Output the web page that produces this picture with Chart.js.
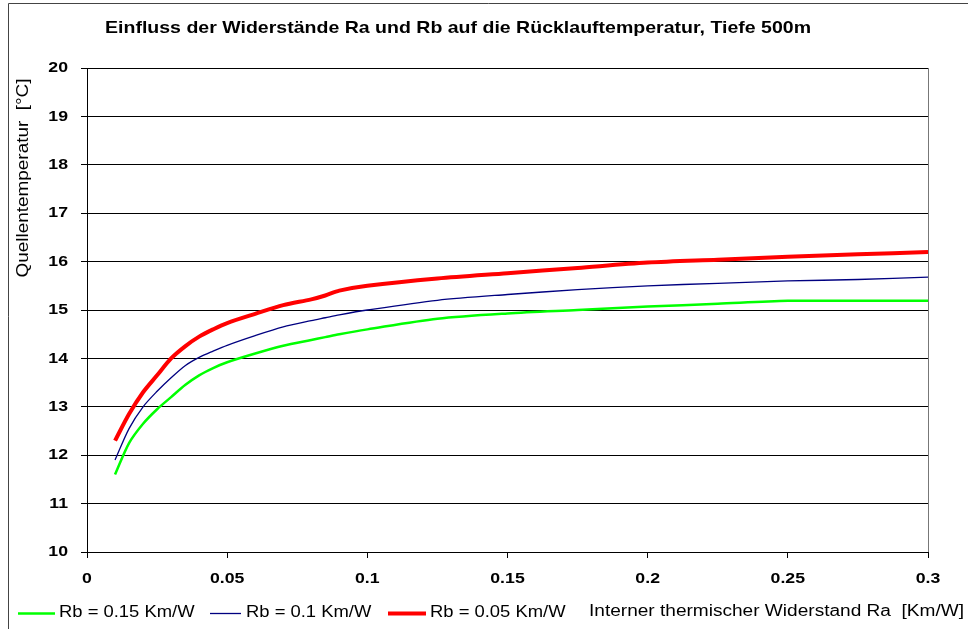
<!DOCTYPE html>
<html>
<head>
<meta charset="utf-8">
<script src="https://cdn.jsdelivr.net/npm/chart.js@4.4.7/dist/chart.umd.min.js"></script>
<style>
  html, body { margin: 0; padding: 0; background: #fff; }
  canvas { display: block; }
</style>
</head>
<body>
<canvas id="chart" width="968" height="629"></canvas>
<script>
const title = "Einfluss der Widerstände Ra und Rb auf die Rücklauftemperatur, Tiefe 500m";
const yTitle = "Quellentemperatur  [°C]";
const xTitle = "Interner thermischer Widerstand Ra  [Km/W]";

const ra = [0.01, 0.015, 0.02, 0.025, 0.03, 0.035, 0.04, 0.045, 0.05, 0.06, 0.07, 0.08,
  0.085, 0.09, 0.1, 0.125, 0.15, 0.175, 0.2, 0.225, 0.25, 0.275, 0.3];

const rb015 = [11.6, 12.25, 12.65, 12.95, 13.2, 13.45, 13.65, 13.8, 13.92, 14.1, 14.26, 14.38,
  14.44, 14.5, 14.6, 14.82, 14.93, 15.0, 15.07, 15.13, 15.19, 15.19, 15.19];
const rb010 = [11.9, 12.55, 13.0, 13.32, 13.6, 13.85, 14.02, 14.15, 14.27, 14.47, 14.65, 14.78,
  14.84, 14.9, 15.0, 15.2, 15.32, 15.42, 15.5, 15.55, 15.6, 15.63, 15.68];
const rb005 = [12.3, 12.85, 13.3, 13.65, 14.0, 14.25, 14.45, 14.6, 14.73, 14.92, 15.1, 15.22,
  15.3, 15.4, 15.5, 15.65, 15.76, 15.87, 15.98, 16.04, 16.1, 16.15, 16.2];

const labels = ["Rb = 0.15 Km/W", "Rb = 0.1 Km/W", "Rb = 0.05 Km/W"];
const toPoints = (ys) => ra.map((x, i) => ({ x, y: ys[i] }));

const font = "'Liberation Sans', Arial, sans-serif";
const stretch = 1.15; // the source picture is a bit wider than tall

// draw text squeezed/stretched horizontally
const drawText = (ctx, text, x, y, align, sx) => {
  const w = ctx.measureText(text).width * sx;
  let left = x;
  if (align === "center") left = x - w / 2;
  if (align === "right") left = x - w;
  ctx.save();
  ctx.translate(left, y);
  ctx.scale(sx, 1);
  ctx.textAlign = "left";
  ctx.fillText(text, 0, 0);
  ctx.restore();
};

const decorations = {
  id: "decorations",
  afterDraw(chart) {
    const { ctx, chartArea } = chart;
    ctx.save();
    // outer frame
    ctx.strokeStyle = "#444";
    ctx.lineWidth = 1;
    ctx.beginPath();
    ctx.moveTo(8.5, 640);
    ctx.lineTo(8.5, 3.5);
    ctx.lineTo(980, 3.5);
    ctx.stroke();
    // right edge of plot area
    ctx.strokeStyle = "#777";
    ctx.beginPath();
    ctx.moveTo(Math.round(chartArea.right) + 0.5, chartArea.top);
    ctx.lineTo(Math.round(chartArea.right) + 0.5, chartArea.bottom);
    ctx.stroke();

    ctx.fillStyle = "#000";
    ctx.textBaseline = "middle";

    // tick labels
    ctx.font = `bold 15px ${font}`;
    const xs = chart.scales.x;
    xs.ticks.forEach((t, i) => {
      drawText(ctx, String(Number(t.value.toFixed(2))), xs.getPixelForTick(i), 579, "center", 1.18);
    });
    const ys = chart.scales.y;
    ys.ticks.forEach((t, i) => {
      drawText(ctx, String(t.value), 68, ys.getPixelForTick(i), "right", 1.18);
    });

    // title
    ctx.font = `bold 17px ${font}`;
    drawText(ctx, title, 105, 28, "left", 706 / ctx.measureText(title).width);

    // y title
    ctx.font = `16px ${font}`;
    ctx.save();
    ctx.translate(24, 178);
    ctx.rotate(-Math.PI / 2);
    drawText(ctx, yTitle, 0, 0, "center", 199 / ctx.measureText(yTitle).width);
    ctx.restore();

    // x title
    drawText(ctx, xTitle, 589, 612, "left", 375 / ctx.measureText(xTitle).width);

    // legend
    const lineX = [[18, 55], [210, 241], [388, 426]];
    const textX = [59, 246, 430];
    chart.data.datasets.forEach((ds, i) => {
      ctx.strokeStyle = ds.borderColor;
      ctx.lineWidth = ds.borderWidth;
      ctx.beginPath();
      ctx.moveTo(lineX[i][0], 613.5);
      ctx.lineTo(lineX[i][1], 613.5);
      ctx.stroke();
      drawText(ctx, ds.label, textX[i], 613, "left", stretch);
    });
    ctx.restore();
  },
};

new Chart(document.getElementById("chart"), {
  type: "line",
  data: {
    datasets: [
      { label: labels[0], data: toPoints(rb015), borderColor: "#00ff00", borderWidth: 2.5, order: 3 },
      { label: labels[1], data: toPoints(rb010), borderColor: "#000080", borderWidth: 1.3, order: 2 },
      { label: labels[2], data: toPoints(rb005), borderColor: "#ff0000", borderWidth: 4, order: 1 },
    ],
  },
  options: {
    responsive: false,
    animation: false,
    events: [],
    elements: { point: { radius: 0 }, line: { tension: 0.3, fill: false } },
    layout: { padding: { top: 68, right: 40, left: 0, bottom: 0 } },
    plugins: { legend: { display: false }, title: { display: false }, tooltip: { enabled: false } },
    scales: {
      x: {
        type: "linear",
        min: 0,
        max: 0.3,
        afterFit: (s) => { s.height = 77; },
        border: { color: "#000", width: 1 },
        grid: { drawOnChartArea: false, drawTicks: true, tickLength: 6, color: "#000" },
        ticks: { stepSize: 0.05, display: false },
      },
      y: {
        min: 10,
        max: 20,
        afterFit: (s) => { s.width = 87; },
        border: { color: "#000", width: 1 },
        grid: { color: "#000", lineWidth: 1, tickLength: 6 },
        ticks: { stepSize: 1, display: false },
      },
    },
  },
  plugins: [decorations],
});
</script>
</body>
</html>
